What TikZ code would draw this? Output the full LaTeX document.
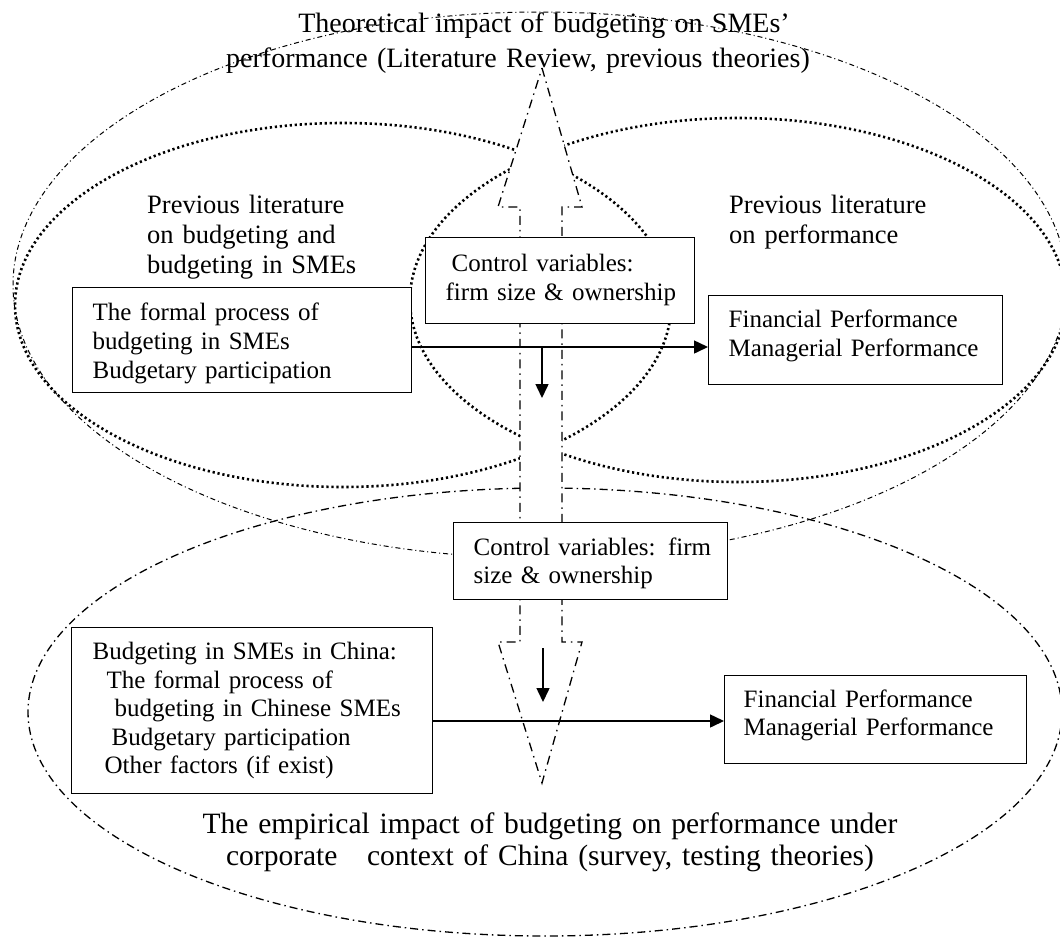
\documentclass[tikz,border=0pt]{standalone}
\usepackage{fontspec}
\setmainfont{Liberation Serif}
\usetikzlibrary{arrows.meta}
\begin{document}
\begin{tikzpicture}[x=1pt,y=-1pt,
  dashdotA/.style={line width=1pt,dash pattern=on 5pt off 3pt on 1pt off 3pt},
  dashdotB/.style={line width=1.3pt,dash pattern=on 8pt off 4pt on 1.5pt off 4pt},
  dotline/.style={line width=2.6pt,dash pattern=on 2.2pt off 2.8pt},
  bigarrow/.style={line width=1.3pt,dash pattern=on 9pt off 5pt on 1.5pt off 5pt,fill=white},
  box/.style={draw,line width=1.3pt,fill=white,inner sep=0pt,align=left,anchor=north west,font=\fontsize{25}{29}\selectfont},
  lbltext/.style={anchor=base west,inner sep=0pt,text width=270pt,align=left,font=\fontsize{26.5}{30}\selectfont},
  arr/.style={line width=1.5pt,-{Triangle[length=14pt,width=13pt]}}
]
\useasboundingbox (0,0) rectangle (1060,940);

% ellipses
\draw[dashdotA] (540,285) ellipse [x radius=527pt, y radius=273pt];
\draw[dotline] (343,305) ellipse [x radius=328pt, y radius=182pt];
\draw[dotline] (738,300) ellipse [x radius=328pt, y radius=182pt];
\draw[dashdotB] (545,712) ellipse [x radius=517pt, y radius=224pt];

% double arrow
\draw[bigarrow] (542,68) -- (582,207) -- (562,207) -- (562,642) -- (582,642) -- (542,783)
  -- (498,642) -- (520,642) -- (520,207) -- (498,207) -- cycle;

% title and captions
\node[anchor=base,inner sep=0pt,text width=700pt,align=center,font=\fontsize{28}{35}\selectfont] (title) at (518,32)
  {\hspace*{52pt}Theoretical impact of budgeting on SMEs'\\performance (Literature Review, previous theories)};
\node[lbltext] (ll) at (147,213) {Previous literature\\on budgeting and\\budgeting in SMEs};
\node[lbltext] (rl) at (729,213) {Previous literature\\on performance};
\node[anchor=base,inner sep=0pt,text width=760pt,align=center,font=\fontsize{29.5}{32}\selectfont] (cap) at (550,833)
  {The empirical impact of budgeting on performance under\\corporate\ \ \ context of China (survey, testing theories)};

% boxes
\node[box,text width=339pt,text height=33pt,text depth=72pt] (lb) at (72,287)
  {\hspace*{20pt}The formal process of\\\hspace*{20pt}budgeting in SMEs\\\hspace*{20pt}Budgetary participation};
\node[box,text width=269pt,text height=34pt,text depth=52pt] (cv1) at (425,237)
  {\hspace*{26pt}Control variables:\\\hspace*{20pt}firm size \& ownership};
\node[box,text width=294pt,text height=32pt,text depth=57pt] (rb) at (708,295)
  {\hspace*{20pt}Financial Performance\\\hspace*{20pt}Managerial Performance};
\node[box,text width=274pt,text height=33pt,text depth=44pt,font=\fontsize{25}{28}\selectfont] (cv2) at (453,522)
  {\hspace*{20pt}Control variables: firm\\\hspace*{20pt}size \& ownership};
\node[box,text width=361pt,text height=32pt,text depth=134pt,font=\fontsize{25}{28.5}\selectfont] (bl) at (71,627)
  {\hspace*{21pt}Budgeting in SMEs in China:\\\hspace*{35pt}The formal process of\\\hspace*{43pt}budgeting in Chinese SMEs\\\hspace*{40pt}Budgetary participation\\\hspace*{33pt}Other factors (if exist)};
\node[box,text width=302pt,text height=32pt,text depth=56pt,font=\fontsize{25}{28}\selectfont] (br) at (724,675)
  {\hspace*{19pt}Financial Performance\\\hspace*{19pt}Managerial Performance};

% connectors
\coordinate (ay1) at (0,347);
\coordinate (ay2) at (0,721);
\coordinate (d1s) at (542,347);
\coordinate (d1e) at (542,398);
\coordinate (d2s) at (543,648);
\coordinate (d2e) at (543,702);
\draw[arr] (lb.east |- ay1) -- (rb.west |- ay1);
\draw[arr] (d1s) -- (d1e);
\draw[arr] (bl.east |- ay2) -- (br.west |- ay2);
\draw[arr] (d2s) -- (d2e);
\end{tikzpicture}
\end{document}
